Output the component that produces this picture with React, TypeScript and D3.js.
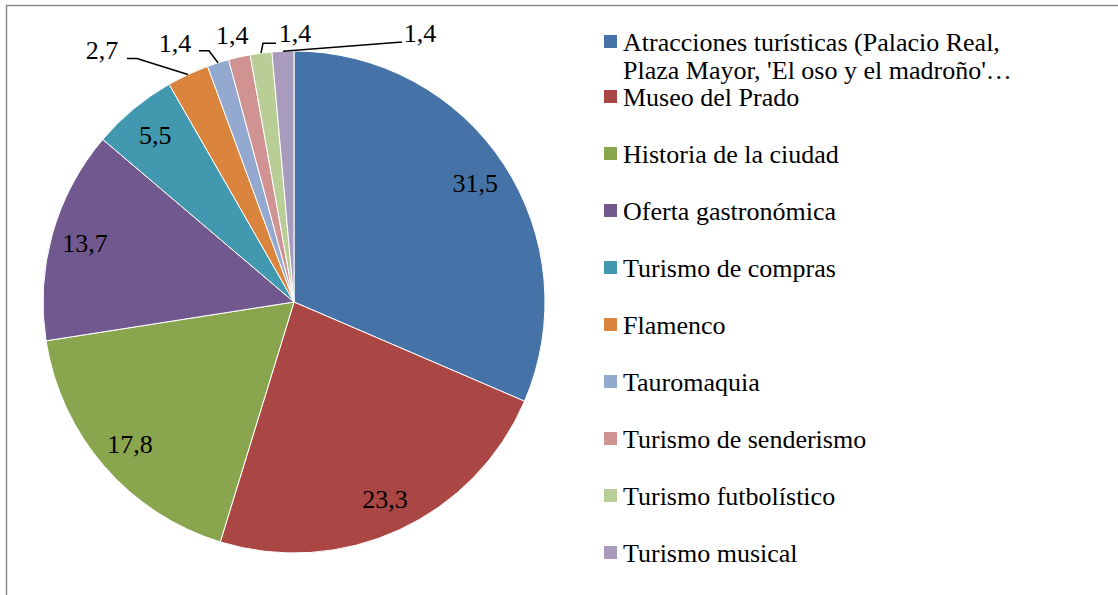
import { useEffect, useRef } from "react";
import * as d3 from "d3";

const categories = [
  "Atracciones turísticas (Palacio Real, Plaza Mayor, 'El oso y el madroño'…",
  "Museo del Prado",
  "Historia de la ciudad",
  "Oferta gastronómica",
  "Turismo de compras",
  "Flamenco",
  "Tauromaquia",
  "Turismo de senderismo",
  "Turismo futbolístico",
  "Turismo musical",
];
const values = [31.5, 23.3, 17.8, 13.7, 5.5, 2.7, 1.4, 1.4, 1.4, 1.4];
const legendLines = [
  ["Atracciones turísticas (Palacio Real,", "Plaza Mayor, 'El oso y el madroño'…"],
  ["Museo del Prado"],
  ["Historia de la ciudad"],
  ["Oferta gastronómica"],
  ["Turismo de compras"],
  ["Flamenco"],
  ["Tauromaquia"],
  ["Turismo de senderismo"],
  ["Turismo futbolístico"],
  ["Turismo musical"],
];
const colors = [
  "#4572A7", "#AA4643", "#89A54E", "#71588F", "#4198AF",
  "#DB843D", "#93A9CF", "#D19392", "#B9CD96", "#A99BBD",
];

// small slices get labels outside, with leader lines (offsets from the slice edge)
const outsideLabels: Record<number, { text: [number, number]; line: [number, number][] }> = {
  5: { text: [-86, -16], line: [[-51, -16], [-61, -16]] },
  6: { text: [-43, -11], line: [[-9, -12], [-19, -12]] },
  7: { text: [-7, -13], line: [] },
  8: { text: [34, -11], line: [[2, -10], [15, -10]] },
  9: { text: [137, -9], line: [[116, -9], [119, -9]] },
};

const fmt = (v: number) => v.toFixed(1).replace(".", ",");
const FONT = "'Liberation Serif', 'Times New Roman', serif";

export default function App() {
  const svgRef = useRef<SVGSVGElement>(null);

  useEffect(() => {
    if (!svgRef.current) return;
    const svg = d3.select(svgRef.current);
    svg.selectAll("*").remove();

    const W = 1118;
    const H = 595;
    svg.attr("width", W).attr("height", H);

    // frame
    svg.append("rect")
      .attr("x", 6.5).attr("y", 5.5)
      .attr("width", W + 20).attr("height", H + 20)
      .attr("fill", "white")
      .attr("stroke", "#8a8a8a")
      .attr("stroke-width", 1.5);

    const cx = 294;
    const cy = 302;
    const r = 251;

    const pie = d3.pie<number>().sort(null).value((d) => d);
    const arcs = pie(values);
    const arc = d3.arc<d3.PieArcDatum<number>>().innerRadius(0).outerRadius(r);
    const edge = d3.arc<d3.PieArcDatum<number>>().innerRadius(r).outerRadius(r);
    const labelArc = d3.arc<d3.PieArcDatum<number>>().innerRadius(r * 0.865).outerRadius(r * 0.865);

    const g = svg.append("g").attr("transform", `translate(${cx},${cy})`);

    g.selectAll("path.slice")
      .data(arcs)
      .join("path")
      .attr("class", "slice")
      .attr("d", arc)
      .attr("fill", (_, i) => colors[i])
      .attr("stroke", "white")
      .attr("stroke-width", 1);

    arcs.forEach((a, i) => {
      const out = outsideLabels[i];
      if (!out) {
        const [lx, ly] = labelArc.centroid(a);
        g.append("text")
          .attr("x", lx)
          .attr("y", ly)
          .attr("dy", "0.35em")
          .attr("text-anchor", "middle")
          .attr("font-family", FONT)
          .attr("font-size", 26)
          .attr("fill", "#000")
          .text(fmt(values[i]));
        return;
      }
      const [ex, ey] = edge.centroid(a);
      if (out.line.length) {
        const pts: [number, number][] = [[ex, ey], ...out.line.map(([dx, dy]) => [ex + dx, ey + dy] as [number, number])];
        g.append("path")
          .attr("d", d3.line()(pts))
          .attr("fill", "none")
          .attr("stroke", "#000")
          .attr("stroke-width", 1.5);
      }
      g.append("text")
        .attr("x", ex + out.text[0])
        .attr("y", ey + out.text[1])
        .attr("text-anchor", "middle")
        .attr("font-family", FONT)
        .attr("font-size", 26)
        .attr("fill", "#000")
        .text(fmt(values[i]));
    });

    // legend
    const legend = svg.append("g");
    const baselines = [51, 106, 163, 220, 277, 334, 391, 448, 505, 562];
    categories.forEach((_, i) => {
      const b = baselines[i];
      legend.append("rect")
        .attr("x", 604)
        .attr("y", b - 16)
        .attr("width", 13)
        .attr("height", 13)
        .attr("fill", colors[i]);
      legendLines[i].forEach((line, j) => {
        legend.append("text")
          .attr("x", 623)
          .attr("y", b + j * 28)
          .attr("font-family", FONT)
          .attr("font-size", 26)
          .attr("fill", "#000")
          .text(line);
      });
    });
  }, []);

  return (
    <div style={{ position: "fixed", left: 0, top: 0, width: 1118, height: 595, background: "white" }}>
      <svg ref={svgRef} style={{ display: "block" }} />
    </div>
  );
}
